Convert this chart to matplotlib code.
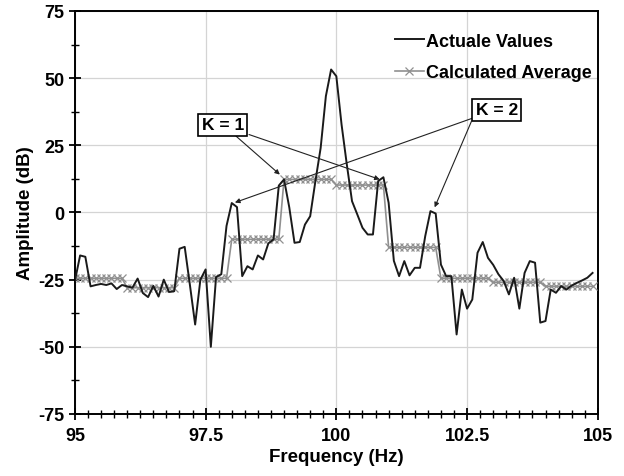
import numpy as np
import matplotlib
matplotlib.use('Agg')
from matplotlib import pyplot as plt
from matplotlib.ticker import MultipleLocator

plt.rcParams['font.family'] = ['Liberation Sans', 'DejaVu Sans']
plt.rcParams['font.weight'] = 'bold'
plt.rcParams['axes.unicode_minus'] = False

# %%
freq = np.round(np.arange(95.0, 104.95, 0.1), 1)

actual = [
    -25.5, -16.0, -16.5, -27.5, -27.0, -26.6, -27.0, -26.4, -28.5, -27.0,
    -27.5, -28.0, -24.6, -30.0, -31.5, -27.3, -31.3, -25.0, -29.6, -29.3,
    -13.5, -12.8, -27.0, -41.7, -25.0, -21.2, -50.0, -24.0, -23.0, -5.0,
    3.5, 2.0, -23.7, -20.0, -21.2, -16.0, -17.5, -11.5, -10.0, 10.0,
    12.3, 1.9, -11.3, -11.0, -4.5, -1.4, 11.7, 24.0, 43.3, 53.2,
    50.7, 32.7, 17.9, 4.2, -0.7, -5.7, -8.2, -8.2, 11.7, 13.1,
    3.6, -18.0, -23.7, -18.1, -23.4, -20.6, -20.6, -8.8, 0.5, -0.4,
    -19.4, -23.7, -23.7, -45.4, -28.7, -35.8, -32.4, -15.0, -11.0, -16.9,
    -19.5, -23.0, -25.5, -30.5, -24.3, -35.8, -22.5, -18.1, -18.7, -41.0,
    -40.4, -28.7, -29.9, -27.4, -28.7, -27.2, -26.2, -25.3, -24.3, -22.5,
]

# one average per 1 Hz block
block_avg = [-24.5, -28.0, -24.5, -10.0, 12.3, 10.2, -13.0, -24.5, -26.0, -27.5]
average = np.repeat(block_avg, 10)

# %%
fig = plt.figure(figsize=(6.24, 4.77), dpi=100)
ax = fig.add_axes([0.120, 0.130, 0.838, 0.845])

ax.plot(freq, average, color='#909090', lw=1.2, marker='x', ms=6, mew=0.9,
        label='Calculated Average', zorder=3)
ax.plot(freq, actual, color='#1a1a1a', lw=1.4, label='Actuale Values', zorder=4)

ax.set(xlim=(95, 105), ylim=(-75, 75))
ax.xaxis.set_major_locator(MultipleLocator(2.5))
ax.xaxis.set_minor_locator(MultipleLocator(0.25))
ax.yaxis.set_major_locator(MultipleLocator(25))
ax.yaxis.set_minor_locator(MultipleLocator(12.5))
ax.xaxis.set_major_formatter(plt.FuncFormatter(lambda v, p: f'{v:g}'))
ax.tick_params(which='major', direction='inout', length=9, width=1.3,
               labelsize=13, pad=3)
ax.tick_params(axis='x', which='major', pad=5)
ax.tick_params(which='minor', direction='inout', length=6, width=1.0)
ax.grid(True, which='major', color='#d4d4d4', lw=0.9)
ax.set_axisbelow(True)
for s in ax.spines.values():
    s.set_linewidth(1.4)

ax.set_xlabel('Frequency (Hz)', fontsize=13.5, fontweight='bold', labelpad=3)
ax.set_ylabel('Amplitude (dB)', fontsize=13.5, fontweight='bold', labelpad=3)

h, l = ax.get_legend_handles_labels()
ax.legend(h[::-1], l[::-1], loc='upper right', bbox_to_anchor=(0.996, 0.955),
          frameon=False, handlelength=1.6, handletextpad=0.15,
          borderaxespad=0, borderpad=0.2, labelspacing=0.8,
          prop={'weight': 'bold', 'size': 13})

bbox = dict(boxstyle='square,pad=0.2', fc='white', ec='black', lw=1.2)
arrow = dict(arrowstyle='-|>', color='#222222', lw=0.8, mutation_scale=7,
             shrinkA=0, shrinkB=0)
ax.annotate('K = 1', xy=(98.92, 14.1), xytext=(97.83, 32.7), fontsize=12.5,
            ha='center', va='center', bbox=bbox, arrowprops=arrow, zorder=6)
ax.annotate('', xy=(100.83, 12.3), xytext=(98.33, 29.0), arrowprops=arrow, zorder=6)
ax.annotate('K = 2', xy=(98.06, 3.7), xytext=(103.07, 38.3), fontsize=12.5,
            ha='center', va='center', bbox=bbox, arrowprops=arrow, zorder=6)
ax.annotate('', xy=(101.88, 1.9), xytext=(102.59, 34.2), arrowprops=arrow, zorder=6)

fig.savefig('out.png')
plt.close(fig)
